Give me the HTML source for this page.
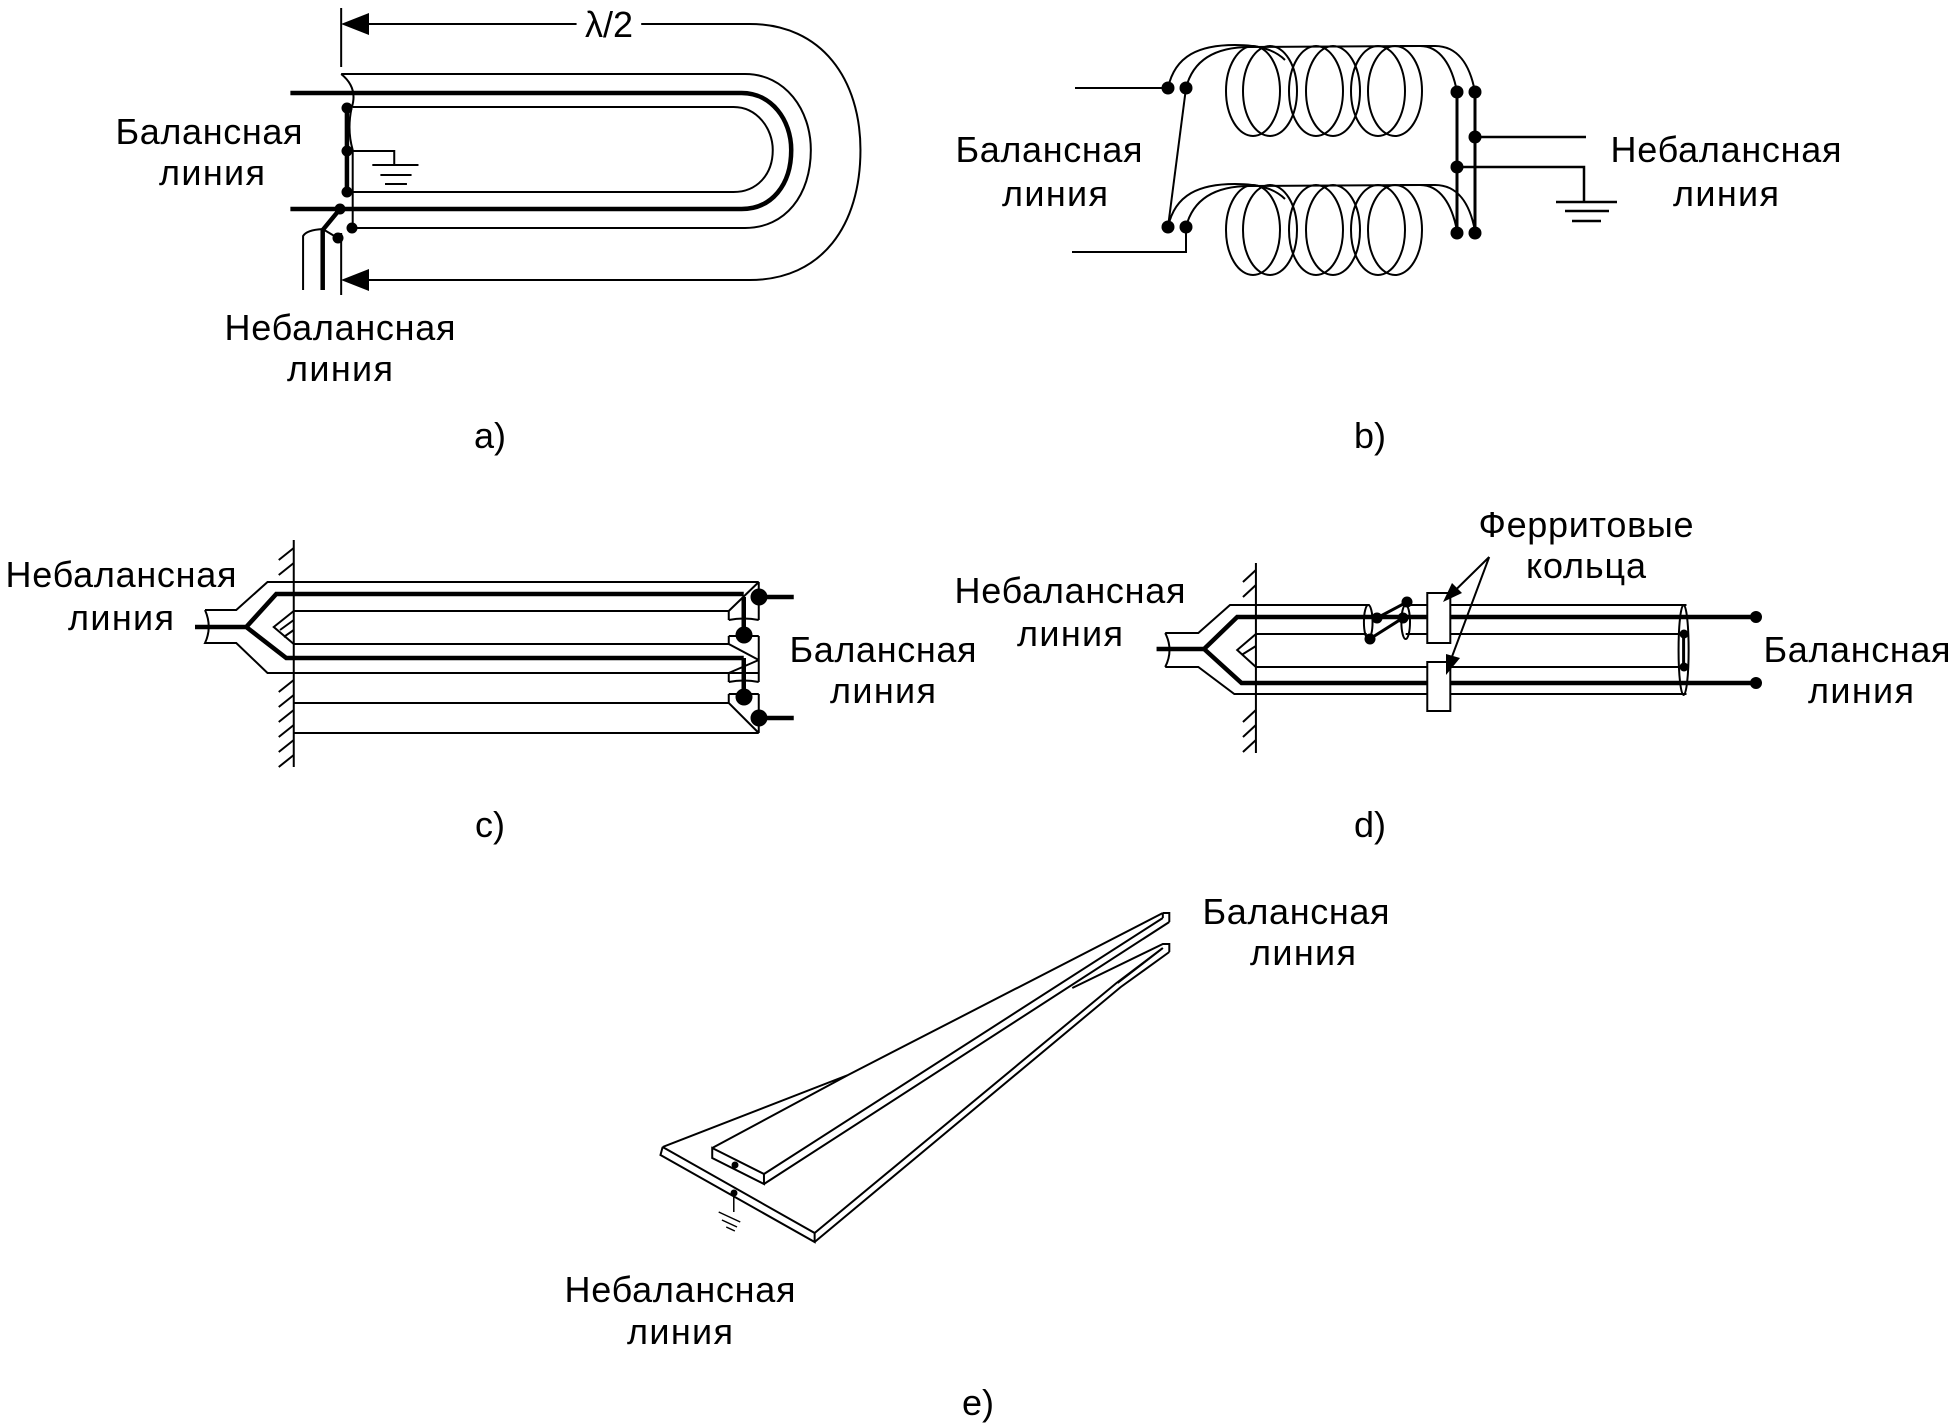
<!DOCTYPE html>
<html><head><meta charset="utf-8"><style>
html,body{margin:0;padding:0;background:#fff;}
svg{display:block}
text{font-family:"Liberation Sans",Arial,sans-serif;font-size:36px;fill:#000;text-anchor:middle}
.t *{vector-effect:non-scaling-stroke}
</style></head><body>
<svg width="1956" height="1428" viewBox="0 0 1956 1428" xmlns="http://www.w3.org/2000/svg">
<g fill="none" stroke="#000" stroke-width="2">
<!-- ===== a ===== -->
<g class="t" transform="translate(280,0) scale(1.154,1) translate(-280,0)">
<line x1="333" y1="8" x2="333" y2="67"/>
<line x1="355" y1="24" x2="537" y2="24"/>
<path d="M593,24 L687,24 C750,24 783,80 783,150 C783,225 750,280 687,280 L355,280"/>
<line x1="333" y1="233" x2="333" y2="295"/>
<path d="M333,74 L683,74 C718,74 740,110 740,150 C740,195 718,228 683,228 L343,228"/>
<path d="M333,74 Q348,88 342,108 Q338,130 343,150 L343,228"/>
<path d="M343,107 L673,107 C693,107 707,128 707,150 C707,175 693,192 673,192 L343,192"/>
<path d="M289,93 L680,93 C706,93 723,120 723,150 C723,185 706,209 680,209 L289,209" stroke-width="4.5"/>
<line x1="338" y1="108" x2="338" y2="192" stroke-width="4.5"/>
<path d="M338,151 H379 V165"/>
<line x1="360" y1="165" x2="400" y2="165"/><line x1="367" y1="175" x2="394" y2="175"/><line x1="371" y1="184" x2="390" y2="184"/>
<path d="M332,209 L317,230 L317,290" stroke-width="4.5"/>
<path d="M300,290 L300,236 Q303,230 317,229 L330,238"/>
</g>
<!-- ===== b ===== -->
<line x1="1075" y1="88" x2="1168" y2="88"/>
<path d="M1186,227 V252 H1072"/>
<line x1="1186" y1="88" x2="1168" y2="227"/>
<g id="coil">
<path d="M1168,88 C1175,55 1200,45 1235,45 C1260,45 1275,50 1285,60"/>
<path d="M1186,88 C1193,60 1215,47 1250,47"/>
<ellipse cx="1253" cy="91" rx="27" ry="45"/><ellipse cx="1270" cy="91" rx="27" ry="45"/>
<ellipse cx="1316" cy="91" rx="27" ry="45"/><ellipse cx="1333" cy="91" rx="27" ry="45"/>
<ellipse cx="1378" cy="91" rx="27" ry="45"/><ellipse cx="1395" cy="91" rx="27" ry="45"/>
<path d="M1250,47 L1420,46 C1440,46 1452,65 1457,92"/>
<path d="M1400,46 L1435,46 C1458,46 1470,65 1475,92"/>
</g>
<use href="#coil" transform="translate(0,139)"/>
<line x1="1457" y1="92" x2="1457" y2="233" stroke-width="3"/>
<line x1="1475" y1="92" x2="1475" y2="233" stroke-width="3"/>
<path d="M1475,137 H1586" stroke-width="2.5"/>
<path d="M1457,167 H1584 V202" stroke-width="2.5"/>
<line x1="1556" y1="202" x2="1617" y2="202" stroke-width="2.5"/><line x1="1565" y1="211" x2="1609" y2="211" stroke-width="2.5"/><line x1="1572" y1="221" x2="1601" y2="221" stroke-width="2.5"/>
<!-- ===== c ===== -->
<g class="t" transform="translate(190,0) scale(1.25,1) translate(-190,0)">
<line x1="273" y1="540" x2="273" y2="767"/>
<path d="M273,548 l-12,12 M273,563 l-12,12 M273,680 l-12,12 M273,695 l-12,12 M273,710 l-12,12 M273,725 l-12,12 M273,740 l-12,12 M273,755 l-12,12"/>
<path d="M202,610 Q208,627 202,643 L227,643 L252,673 L645,673"/>
<path d="M202,610 L227,610 L252,582 L645,582"/>
<path d="M273,611 L621,611 M273,644 L621,644 M273,611 L257,627 L273,644 M262,630 l11,-10 M265,637 l8,-7"/>
<path d="M273,703 L621,703 M273,733 L645,733"/>
<path d="M194,627 L235,627 L259,594 L633,594 M235,627 L267,658 L633,658" stroke-width="4.5"/>
<path d="M621,611 L645,582 M621,620 L621,611 M621,620 Q633,617 645,620 M645,582 V620"/>
<path d="M621,636 L645,636 M621,636 V644 L645,660 M645,636 V660"/>
<path d="M621,673 L645,660 M621,682 L621,673 M621,682 Q633,679 645,682 M645,660 V682"/>
<path d="M621,694 L645,694 M621,694 V703 L645,733 M645,694 V733"/>
<path d="M633,597 V635 M633,658 V697 M645,597 H673 M645,718 H673" stroke-width="4.5"/>
</g>
<!-- ===== d ===== -->
<g class="t" transform="translate(1050,0) scale(1.44,1) translate(-1050,0)">
<line x1="1193" y1="563" x2="1193" y2="753"/>
<path d="M1193,570 l-9,12 M1193,585 l-9,12 M1193,710 l-9,12 M1193,725 l-9,12 M1193,740 l-9,12"/>
<path d="M1130,633 Q1136,650 1130,667 M1130,633 L1153,633 L1175,605 L1272,605 M1130,667 L1153,667 L1178,694 L1492,694"/>
<path d="M1297,605 L1492,605 M1193,634 L1270,634 M1297,634 L1492,634 M1193,667 L1492,667 M1193,634 L1180,650 L1193,667 M1183,655 l10,-9"/>
<ellipse cx="1271" cy="622" rx="3" ry="17"/><ellipse cx="1297" cy="622" rx="3" ry="17"/><ellipse cx="1490" cy="650" rx="3.5" ry="45"/>
<path d="M1124,649 L1157,649 L1180,617 L1540,617 M1157,649 L1183,683 L1540,683" stroke-width="4.5"/>
<path d="M1277,618 L1298,602 M1272,639 L1295,618" stroke-width="3"/>
<line x1="1490" y1="634" x2="1490" y2="667" stroke-width="3"/>
<rect x="1312" y="593" width="16" height="50" fill="#fff"/><rect x="1312" y="662" width="16" height="49" fill="#fff"/>
<path d="M1355,557 L1326,598 M1355,557 L1327,665"/>
</g>
<!-- ===== e ===== -->
<g class="t" transform="translate(640,0) scale(1.078,1) translate(-640,0)">
<path d="M661,1147 L833,1075 L1125,913 M707,1148 L833,1075"/>
<path d="M707,1148 L755,1174 L755,1184 L707,1158 Z"/>
<path d="M755,1174 L1125,918 M755,1184 L1131,922 M1125,913 L1131,913 L1131,922 M1125,913 V918"/>
<path d="M1041,988 L1125,944 L1131,944 L1131,952 M1083,983 L1125,948"/>
<path d="M661,1147 L802,1233 L802,1242 L659,1155 L661,1147"/>
<path d="M802,1233 L1082,983 L1125,948 M802,1242 L1086,987 L1131,952"/>
<path d="M727,1193 V1212 M713,1212 l20,10 M716,1220 l14,7 M720,1227 l8,4" stroke-width="1.5"/>
</g>
</g>
<g fill="#000">
<path d="M341,24 L369,13 L369,35 Z"/><path d="M341,280 L369,269 L369,291 Z"/>
<circle cx="347" cy="108" r="5.5"/><circle cx="347" cy="151" r="5.5"/><circle cx="347" cy="192" r="5.5"/>
<circle cx="340" cy="209" r="5.5"/><circle cx="352" cy="228" r="5.5"/><circle cx="338" cy="238" r="5.5"/>
<circle cx="1168" cy="88" r="6.5"/><circle cx="1186" cy="88" r="6.5"/><circle cx="1168" cy="227" r="6.5"/><circle cx="1186" cy="227" r="6.5"/>
<circle cx="1457" cy="92" r="6.5"/><circle cx="1475" cy="92" r="6.5"/><circle cx="1457" cy="233" r="6.5"/><circle cx="1475" cy="233" r="6.5"/>
<circle cx="1475" cy="137" r="6.5"/><circle cx="1457" cy="167" r="6.5"/>
<circle cx="759" cy="597" r="8.5"/><circle cx="744" cy="635" r="8.5"/><circle cx="744" cy="697" r="8.5"/><circle cx="759" cy="718" r="8.5"/>
<circle cx="1377" cy="618" r="5.5"/><circle cx="1407" cy="602" r="5.5"/><circle cx="1403" cy="618" r="5.5"/><circle cx="1370" cy="639" r="5.5"/>
<circle cx="1756" cy="617" r="6"/><circle cx="1756" cy="683" r="6"/><circle cx="1684" cy="634" r="4.5"/><circle cx="1684" cy="667" r="4.5"/>
<path d="M1443,602 L1462,593 L1452,583 Z"/><path d="M1446,675 L1460,658 L1446,654 Z"/>
<circle cx="735" cy="1165" r="3.5"/><circle cx="734" cy="1193" r="3.5"/>
</g>
<g>
<text x="609" y="37" font-size="32" textLength="48">λ/2</text>
<text x="209" y="144" textLength="187">Балансная</text><text x="212" y="185" textLength="106">линия</text>
<text x="340" y="340" textLength="231">Небалансная</text><text x="340" y="381" textLength="106">линия</text>
<text x="490" y="448" font-size="28">a)</text>
<text x="1049" y="162" textLength="187">Балансная</text><text x="1055" y="206" textLength="106">линия</text>
<text x="1726" y="162" textLength="231">Небалансная</text><text x="1726" y="206" textLength="106">линия</text>
<text x="1370" y="448" font-size="28">b)</text>
<text x="121" y="587" textLength="231">Небалансная</text><text x="121" y="630" textLength="106">линия</text>
<text x="883" y="662" textLength="187">Балансная</text><text x="883" y="703" textLength="106">линия</text>
<text x="490" y="837" font-size="28">c)</text>
<text x="1586" y="537" textLength="215">Ферритовые</text><text x="1586" y="578" textLength="120">кольца</text>
<text x="1070" y="603" textLength="231">Небалансная</text><text x="1070" y="646" textLength="106">линия</text>
<text x="1857" y="662" textLength="187">Балансная</text><text x="1861" y="703" textLength="106">линия</text>
<text x="1370" y="837" font-size="28">d)</text>
<text x="1296" y="924" textLength="187">Балансная</text><text x="1303" y="965" textLength="106">линия</text>
<text x="680" y="1302" textLength="231">Небалансная</text><text x="680" y="1344" textLength="106">линия</text>
<text x="978" y="1415" font-size="28">e)</text>
</g>
</svg>
</body></html>
